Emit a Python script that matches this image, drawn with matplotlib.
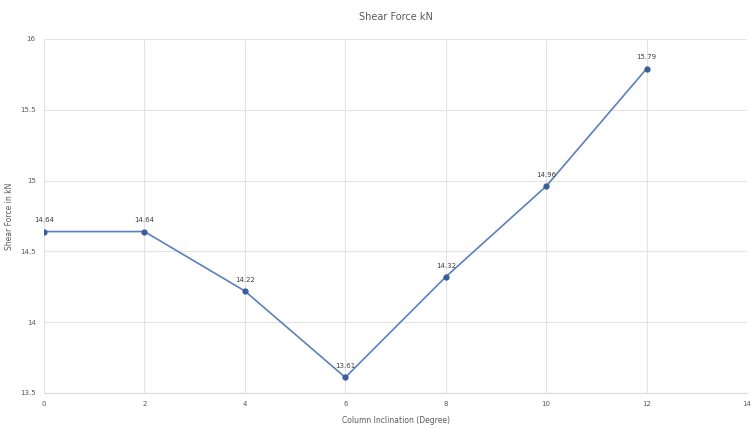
import matplotlib
matplotlib.use('Agg')
import matplotlib.pyplot as plt

# data
inclination = [0, 2, 4, 6, 8, 10, 12]
shearForce = [14.64, 14.64, 14.22, 13.61, 14.32, 14.96, 15.79]
xTicks = [0, 2, 4, 6, 8, 10, 12, 14]
yTicks = [13.5, 14, 14.5, 15, 15.5, 16]

fig = plt.figure(figsize=(7.51, 4.28), dpi=100)
ax = fig.add_axes([0.0586, 0.0818, 0.9361, 0.8271])

ax.plot(inclination, shearForce, color='#5B7FC0', linewidth=1.2,
        marker='o', markersize=3.5, markerfacecolor='#3A5E9C', markeredgecolor='#3A5E9C', zorder=3)

# data labels
for x, y in zip(inclination, shearForce):
    ax.annotate('%.2f' % y, (x, y), xytext=(0, 6), textcoords='offset points',
                ha='center', va='bottom', fontsize=5, color='#404040')

ax.set_xlim(0, 14)
ax.set_ylim(13.5, 16)
ax.set_xticks(xTicks)
ax.set_yticks(yTicks)
ax.set_yticklabels(['13.5', '14', '14.5', '15', '15.5', '16'])
ax.grid(True, color='#E3E3E3', linewidth=0.8)
ax.set_axisbelow(True)
for s in ['top', 'right', 'left']:
    ax.spines[s].set_visible(False)
ax.spines['bottom'].set_color('#D9D9D9')
ax.tick_params(length=0, labelsize=5, colors='#595959', pad=6)

ax.set_title('Shear Force kN', fontsize=7, color='#595959', pad=14)
ax.set_xlabel('Column Inclination (Degree)', fontsize=5.5, color='#595959', labelpad=6)
ax.set_ylabel('Shear Force in kN', fontsize=5.5, color='#595959', labelpad=4)

plt.savefig('out.png')
